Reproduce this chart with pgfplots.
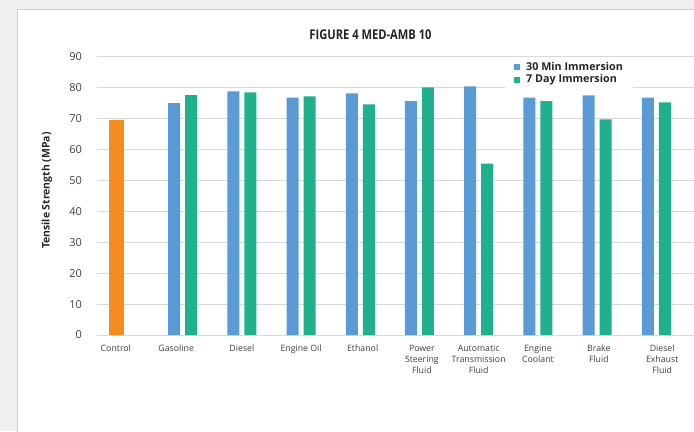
\documentclass[border=0pt]{standalone}
\usepackage{pgfplots}
\pgfplotsset{compat=1.18}
\usepackage{fontspec}
\setmainfont{Open Sans}
\newfontfamily\condfont[FakeStretch=0.83]{Open Sans}
\definecolor{cblue}{HTML}{5B9BD5}
\definecolor{cgreen}{HTML}{21B08D}
\definecolor{corange}{HTML}{F68B1F}
\definecolor{gridc}{HTML}{D9D9D9}
\definecolor{bggray}{HTML}{EFEFEF}
\definecolor{borderc}{HTML}{D0D0D0}
\definecolor{tickc}{HTML}{404040}
\definecolor{darkc}{HTML}{262626}
\begin{document}
\begin{tikzpicture}[x=1bp,y=1bp]
\useasboundingbox (0,0) rectangle (694,431);
\fill[bggray] (0,0) rectangle (694,431);
\filldraw[fill=white, draw=borderc, line width=0.8bp] (17,-2) rectangle (700,421.3);
\begin{axis}[
  at={(96.7bp,96bp)}, anchor=south west,
  scale only axis, width=601bp, height=278.3bp,
  xmin=-0.453, xmax=9.7, ymin=0, ymax=90,
  ytick={0,10,...,90},
  ymajorgrids, grid style={gridc, line width=1bp},
  axis line style={draw=none}, major tick length=0pt,
  /pgf/number format/assume math mode=true,
  yticklabel style={font=\fontsize{11}{13}\selectfont, text=tickc, anchor=east, inner sep=0pt, xshift=-14.7bp},
  xtick={-0.13,0.89,2,3,4.04,5.04,6,7,8.03,9.1},
  xticklabels={Control, Gasoline, Diesel, Engine Oil, Ethanol, Power\\Steering\\Fluid, Automatic\\Transmission\\Fluid, Engine\\Coolant, Brake\\Fluid, Diesel\\Exhaust\\Fluid},
  xticklabel style={font=\fontsize{8.8}{11}\selectfont, text=tickc, align=center, anchor=north, inner sep=0pt, yshift=-10bp},
  ylabel={Tensile Strength (MPa)},
  every axis y label/.style={at={(axis description cs:-0.0827,0.519)}, rotate=90, anchor=center, font=\fontsize{10.5}{12}\selectfont\bfseries, text=darkc},
  title={\condfont\bfseries FIGURE 4 MED-AMB 10},
  title style={at={(axis description cs:0.4556,1.0564)}, anchor=center, inner sep=0pt, font=\fontsize{13.5}{15}\selectfont, text=darkc},
  ybar, bar width=12bp,
  legend style={draw=none, fill=white, at={(axis description cs:0.6794,0.9917)}, anchor=north west,
    font=\fontsize{10.8}{13}\selectfont\bfseries, text=darkc, inner xsep=9bp, inner ysep=2bp, row sep=0bp,
    nodes={inner sep=1bp, text height=8bp, text depth=2.5bp},
    /tikz/every odd column/.append style={column sep=5bp}},
  legend cell align=left,
  legend image code/.code={\path[#1, draw=none] (0bp,-3bp) rectangle (6bp,3bp);},
]
\addplot[fill=cblue, draw=none, bar shift=-8.5bp] coordinates {
 (1,75.0) (2,78.8) (3,76.8) (4,78.1) (5,75.6) (6,80.4) (7,76.8) (8,77.5) (9,76.8)};
\addlegendentry{30 Min Immersion}
\addplot[fill=cgreen, draw=none, bar shift=8.5bp] coordinates {
 (1,77.6) (2,78.5) (3,77.2) (4,74.6) (5,80.1) (6,55.4) (7,75.6) (8,69.7) (9,75.2)};
\addlegendentry{7 Day Immersion}
\addplot[fill=corange, draw=none, bar shift=-7bp, bar width=15bp, forget plot] coordinates {(0,69.4)};
\end{axis}
\end{tikzpicture}
\end{document}
